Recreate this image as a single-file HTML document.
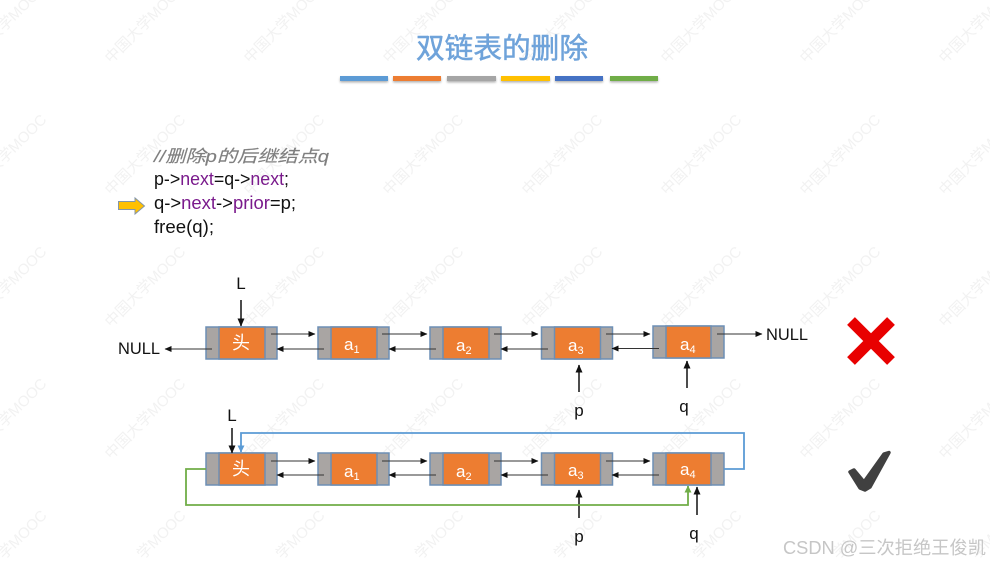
<!DOCTYPE html>
<html><head><meta charset="utf-8">
<style>
html,body{margin:0;padding:0;background:#fff;width:990px;height:565px;overflow:hidden}
svg{display:block;filter:blur(.3px)}
text{font-family:"Liberation Sans","Noto Sans CJK SC",sans-serif}
</style></head><body>
<svg id="s" width="990" height="565" viewBox="0 0 990 565" xmlns="http://www.w3.org/2000/svg">
<defs>
<marker id="k" markerWidth="7" markerHeight="6" refX="6.5" refY="3" orient="auto" markerUnits="userSpaceOnUse"><path d="M0 0L7 3L0 6z" fill="#111"/></marker>
<marker id="k2" markerWidth="8" markerHeight="7" refX="7.5" refY="3.5" orient="auto" markerUnits="userSpaceOnUse"><path d="M0 0L8 3.5L0 7z" fill="#111"/></marker>
<marker id="b" markerWidth="7" markerHeight="7" refX="6.5" refY="3.5" orient="auto" markerUnits="userSpaceOnUse"><path d="M0 0L7 3.500L0 7z" fill="#5b9bd5"/></marker>
<marker id="g" markerWidth="7" markerHeight="7" refX="6.5" refY="3.5" orient="auto" markerUnits="userSpaceOnUse"><path d="M0 0L7 3.500L0 7z" fill="#70ad47"/></marker>
<filter id="sh" x="-10%" y="-50%" width="120%" height="250%"><feDropShadow dx="0" dy="1.5" stdDeviation="1" flood-color="#000" flood-opacity=".3"/></filter>
</defs>

<g id="wm" fill="#f2f2f2" font-size="15">
<text transform="translate(-167,64) rotate(-45)">中国大学MOOC</text><text transform="translate(-28,64) rotate(-45)">中国大学MOOC</text><text transform="translate(111,64) rotate(-45)">中国大学MOOC</text><text transform="translate(250,64) rotate(-45)">中国大学MOOC</text><text transform="translate(389,64) rotate(-45)">中国大学MOOC</text><text transform="translate(528,64) rotate(-45)">中国大学MOOC</text><text transform="translate(667,64) rotate(-45)">中国大学MOOC</text><text transform="translate(806,64) rotate(-45)">中国大学MOOC</text><text transform="translate(945,64) rotate(-45)">中国大学MOOC</text>
<text transform="translate(-167,196) rotate(-45)">中国大学MOOC</text><text transform="translate(-28,196) rotate(-45)">中国大学MOOC</text><text transform="translate(111,196) rotate(-45)">中国大学MOOC</text><text transform="translate(250,196) rotate(-45)">中国大学MOOC</text><text transform="translate(389,196) rotate(-45)">中国大学MOOC</text><text transform="translate(528,196) rotate(-45)">中国大学MOOC</text><text transform="translate(667,196) rotate(-45)">中国大学MOOC</text><text transform="translate(806,196) rotate(-45)">中国大学MOOC</text><text transform="translate(945,196) rotate(-45)">中国大学MOOC</text>
<text transform="translate(-167,328) rotate(-45)">中国大学MOOC</text><text transform="translate(-28,328) rotate(-45)">中国大学MOOC</text><text transform="translate(111,328) rotate(-45)">中国大学MOOC</text><text transform="translate(250,328) rotate(-45)">中国大学MOOC</text><text transform="translate(389,328) rotate(-45)">中国大学MOOC</text><text transform="translate(528,328) rotate(-45)">中国大学MOOC</text><text transform="translate(667,328) rotate(-45)">中国大学MOOC</text><text transform="translate(806,328) rotate(-45)">中国大学MOOC</text><text transform="translate(945,328) rotate(-45)">中国大学MOOC</text>
<text transform="translate(-167,460) rotate(-45)">中国大学MOOC</text><text transform="translate(-28,460) rotate(-45)">中国大学MOOC</text><text transform="translate(111,460) rotate(-45)">中国大学MOOC</text><text transform="translate(250,460) rotate(-45)">中国大学MOOC</text><text transform="translate(389,460) rotate(-45)">中国大学MOOC</text><text transform="translate(528,460) rotate(-45)">中国大学MOOC</text><text transform="translate(667,460) rotate(-45)">中国大学MOOC</text><text transform="translate(806,460) rotate(-45)">中国大学MOOC</text><text transform="translate(945,460) rotate(-45)">中国大学MOOC</text>
<text transform="translate(4,560) rotate(-45)">学MOOC</text><text transform="translate(143,560) rotate(-45)">学MOOC</text><text transform="translate(282,560) rotate(-45)">学MOOC</text><text transform="translate(421,560) rotate(-45)">学MOOC</text><text transform="translate(560,560) rotate(-45)">学MOOC</text><text transform="translate(699,560) rotate(-45)">学MOOC</text><text transform="translate(838,560) rotate(-45)">学MOOC</text><text transform="translate(977,560) rotate(-45)">学MOOC</text>
</g>

<text x="416" y="58" font-size="28.5" fill="#6fa3da" stroke="#6fa3da" stroke-width=".5" textLength="172" lengthAdjust="spacingAndGlyphs">双链表的删除</text>
<g filter="url(#sh)">
<rect x="340" y="76" width="48" height="5" fill="#5b9bd5"/>
<rect x="393" y="76" width="48" height="5" fill="#ed7d31"/>
<rect x="447" y="76" width="49" height="5" fill="#a5a5a5"/>
<rect x="501" y="76" width="49" height="5" fill="#ffc000"/>
<rect x="555" y="76" width="48" height="5" fill="#4472c4"/>
<rect x="610" y="76" width="48" height="5" fill="#70ad47"/>
</g>

<text x="154" y="162" font-size="17" font-style="italic" fill="#7f7f7f" stroke="#7f7f7f" stroke-width=".15" textLength="175" lengthAdjust="spacingAndGlyphs">//删除p的后继结点q</text>
<text x="154" y="185" font-size="18" fill="#111" textLength="135" lengthAdjust="spacingAndGlyphs">p-&gt;<tspan fill="#7a1a8c">next</tspan>=q-&gt;<tspan fill="#7a1a8c">next</tspan>;</text>
<text x="154" y="209" font-size="18" fill="#111" textLength="142" lengthAdjust="spacingAndGlyphs">q-&gt;<tspan fill="#7a1a8c">next</tspan>-&gt;<tspan fill="#7a1a8c">prior</tspan>=p;</text>
<text x="154" y="233" font-size="18" fill="#111" textLength="60" lengthAdjust="spacingAndGlyphs">free(q);</text>
<path d="M118.500 201.500H135V198L144.500 206L135 214V209.500H118.500z" fill="#ffc000" stroke="#8496a8" stroke-width="1"/>

<g id="row1" stroke="#6d8fb5" stroke-width="1.500">
<g><rect x="206" y="327" width="71" height="32" fill="#a9a5a3"/><rect x="219" y="327" width="46" height="32" fill="#ed7d31"/></g>
<g><rect x="318" y="327" width="71" height="32" fill="#a9a5a3"/><rect x="331" y="327" width="46" height="32" fill="#ed7d31"/></g>
<g><rect x="430" y="327" width="71" height="32" fill="#a9a5a3"/><rect x="443" y="327" width="46" height="32" fill="#ed7d31"/></g>
<g><rect x="541.500" y="327" width="71" height="32" fill="#a9a5a3"/><rect x="554.500" y="327" width="46" height="32" fill="#ed7d31"/></g>
<g><rect x="653" y="326" width="71" height="32" fill="#a9a5a3"/><rect x="666" y="326" width="45" height="32" fill="#ed7d31"/></g>
</g>
<g id="row2" stroke="#6d8fb5" stroke-width="1.500">
<g><rect x="206" y="453" width="71" height="32" fill="#a9a5a3"/><rect x="219" y="453" width="46" height="32" fill="#ed7d31"/></g>
<g><rect x="318" y="453" width="71" height="32" fill="#a9a5a3"/><rect x="331" y="453" width="46" height="32" fill="#ed7d31"/></g>
<g><rect x="430" y="453" width="71" height="32" fill="#a9a5a3"/><rect x="443" y="453" width="46" height="32" fill="#ed7d31"/></g>
<g><rect x="541.500" y="453" width="71" height="32" fill="#a9a5a3"/><rect x="554.500" y="453" width="46" height="32" fill="#ed7d31"/></g>
<g><rect x="653" y="453" width="71" height="32" fill="#a9a5a3"/><rect x="666" y="453" width="45" height="32" fill="#ed7d31"/></g>
</g>

<g fill="#fff" font-size="17">
<text x="232" y="349" font-size="18">头</text>
<text x="344" y="350">a<tspan font-size="11" dy="3">1</tspan></text>
<text x="456" y="351">a<tspan font-size="11" dy="3">2</tspan></text>
<text x="568" y="351">a<tspan font-size="11" dy="3">3</tspan></text>
<text x="680" y="350">a<tspan font-size="11" dy="3">4</tspan></text>
<text x="232" y="475" font-size="18">头</text>
<text x="344" y="477">a<tspan font-size="11" dy="3">1</tspan></text>
<text x="456" y="477">a<tspan font-size="11" dy="3">2</tspan></text>
<text x="568" y="476">a<tspan font-size="11" dy="3">3</tspan></text>
<text x="680" y="475">a<tspan font-size="11" dy="3">4</tspan></text>
</g>

<g stroke="#333" stroke-width="1" fill="none">
<path d="M271 334H315" marker-end="url(#k)"/><path d="M382 334H427" marker-end="url(#k)"/><path d="M494 334H538" marker-end="url(#k)"/><path d="M606 334H650" marker-end="url(#k)"/>
<path d="M324 349H277" marker-end="url(#k)"/><path d="M436 349H389" marker-end="url(#k)"/><path d="M548 349H501" marker-end="url(#k)"/><path d="M659 348.500H612" marker-end="url(#k)"/>
<path d="M212 349H165" marker-end="url(#k)"/><path d="M717 334H762" marker-end="url(#k)"/>
<path d="M271 461H315" marker-end="url(#k)"/><path d="M382 461H427" marker-end="url(#k)"/><path d="M494 461H538" marker-end="url(#k)"/><path d="M606 461H650" marker-end="url(#k)"/>
<path d="M324 475H277" marker-end="url(#k)"/><path d="M436 475H389" marker-end="url(#k)"/><path d="M548 475H501" marker-end="url(#k)"/><path d="M659 475H612" marker-end="url(#k)"/>
</g>

<g stroke="#111" stroke-width="1.500" fill="none">
<path d="M241 300V326" marker-end="url(#k2)"/>
<path d="M579 392V365" marker-end="url(#k2)"/>
<path d="M687 388V361" marker-end="url(#k2)"/>
<path d="M232 428V453" marker-end="url(#k2)"/>
<path d="M579 518V490" marker-end="url(#k2)"/>
<path d="M697 515V487" marker-end="url(#k2)"/>
</g>

<path d="M724 469H744V433H241V452" fill="none" stroke="#5b9bd5" stroke-width="1.800" marker-end="url(#b)"/>
<path d="M206 469H186V505H688V486" fill="none" stroke="#70ad47" stroke-width="1.800" marker-end="url(#g)"/>

<g fill="#111" font-size="17">
<text x="241" y="289" text-anchor="middle">L</text>
<text x="118" y="354" textLength="42" lengthAdjust="spacingAndGlyphs">NULL</text>
<text x="766" y="340" textLength="42" lengthAdjust="spacingAndGlyphs">NULL</text>
<text x="579" y="416" text-anchor="middle">p</text>
<text x="684" y="412" text-anchor="middle">q</text>
<text x="232" y="421" text-anchor="middle">L</text>
<text x="579" y="542" text-anchor="middle">p</text>
<text x="694" y="539" text-anchor="middle">q</text>
</g>

<path d="M851 321L891 361M891 321L851 361" stroke="#e80000" stroke-width="11" fill="none"/>
<path d="M850 472L854 470L864 482L884 454L889 452.500L870 487L865 490L860 488z" fill="#404040" stroke="#404040" stroke-width="3.500" stroke-linejoin="round"/>

<text x="783" y="554" font-size="18" fill="#c6c6c6" textLength="203" lengthAdjust="spacingAndGlyphs">CSDN @三次拒绝王俊凯</text>
</svg>
</body></html>
